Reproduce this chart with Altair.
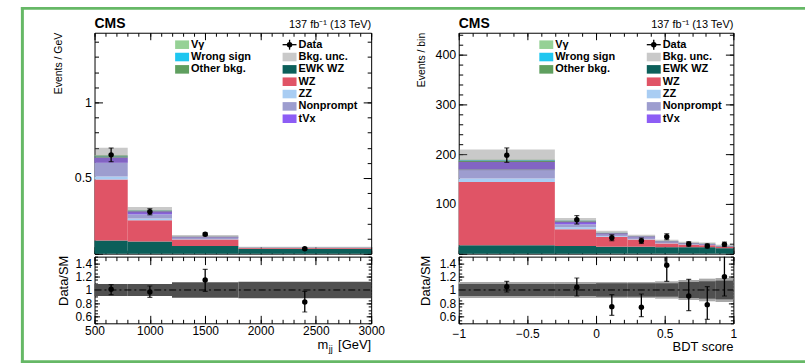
import altair as alt
import pandas as pd

FONT = "Liberation Sans"

# ---------------- left panel : m_jj ----------------
mjj_edges = [500, 800, 1200, 1800, 3000]
mjj_ewkwz = [0.087, 0.080, 0.050, 0.032]
mjj_wz = [0.403, 0.140, 0.043, 0.006]
mjj_zz = [0.020, 0.013, 0.003, 0.001]
mjj_nonprompt = [0.090, 0.027, 0.010, 0.001]
mjj_tvx = [0.035, 0.020, 0.005, 0.001]
mjj_other = [0.008, 0.004, 0.001, 0.000]
mjj_wrongsign = [0.002, 0.001, 0.000, 0.000]
mjj_vgamma = [0.005, 0.002, 0.001, 0.000]
mjj_unc = [0.050, 0.022, 0.010, 0.004]
mjj_data_x = [650, 1000, 1500, 2400]
mjj_data = [0.653, 0.277, 0.128, 0.032]
mjj_data_err = [0.045, 0.020, 0.009, 0.005]
mjj_ratio = [1.01, 0.97, 1.15, 0.82]
mjj_ratio_lo = [0.93, 0.89, 0.98, 0.67]
mjj_ratio_hi = [1.08, 1.06, 1.31, 0.98]
mjj_band = [0.09, 0.09, 0.115, 0.125]

# ---------------- right panel : BDT score ----------------
bdt_edges = [-1, -0.3, 0, 0.23, 0.43, 0.6, 0.75, 0.87, 1]
bdt_ewkwz = [17, 15.5, 14, 14, 13, 13, 13, 11]
bdt_wz = [127, 33.5, 19.5, 14.5, 7.5, 5, 4, 2.5]
bdt_zz = [7, 4, 1.5, 1, 0.5, 0.5, 0.3, 0.2]
bdt_nonprompt = [19, 6, 3.5, 3, 2, 1.5, 1.2, 0.8]
bdt_tvx = [14, 5.4, 2.5, 2, 1.5, 1, 1, 0.6]
bdt_other = [2, 1, 0.5, 0.3, 0.3, 0.3, 0.3, 0.3]
bdt_wrongsign = [1.5, 0.5, 0.3, 0.1, 0.1, 0.1, 0.1, 0.1]
bdt_vgamma = [1, 0.5, 0.2, 0.1, 0.1, 0.1, 0.1, 0.1]
bdt_unc = [21, 5.5, 4, 3, 3, 2.5, 2.5, 2.5]
bdt_data_x = [-0.65, -0.14, 0.115, 0.33, 0.515, 0.675, 0.81, 0.935]
bdt_data = [198, 68, 32, 26, 34, 19.5, 15.5, 18.7]
bdt_data_err = [14.5, 8.5, 6, 5.5, 6, 4.5, 4, 4.5]
bdt_ratio = [1.05, 1.04, 0.75, 0.74, 1.37, 0.91, 0.78, 1.20]
bdt_ratio_lo = [0.97, 0.91, 0.62, 0.60, 1.13, 0.69, 0.56, 0.91]
bdt_ratio_hi = [1.13, 1.18, 0.93, 0.94, 1.55, 1.16, 1.05, 1.55]
bdt_band_in = [0.09, 0.09, 0.10, 0.10, 0.10, 0.12, 0.13, 0.14]
bdt_band_out = [0.12, 0.12, 0.12, 0.12, 0.13, 0.15, 0.17, 0.18]

# stacking order, bottom -> top
comp_names = ["EWK WZ", "WZ", "ZZ", "Nonprompt", "tVx", "Other bkg.", "Wrong sign", "Vγ"]
comp_colors = ["#0b5f5a", "#e05466", "#a9cdf3", "#9d9dcf", "#8d5df5", "#5f9f5f", "#1ec6f0", "#95d195"]
color_of = dict(zip(comp_names, comp_colors))

GREEN = "#66b866"
UNC_COLOR, UNC_OPACITY = "#707070", 0.38
W_L, W_R, H_MAIN, H_RATIO = 278, 276, 222, 67
LABEL_EXPR = "replace(toString(datum.value), '-', '\u2212')"


def stack_df(edges, comps):
    rows = []
    for i in range(len(edges) - 1):
        cum = 0.0
        for name, vals in zip(comp_names, comps):
            rows.append(dict(x0=edges[i], x1=edges[i + 1], y0=cum, y1=cum + vals[i], comp=name))
            cum += vals[i]
    return pd.DataFrame(rows)


def axis_layers(xs, ys, xdom, ydom, xmaj, xmin, ymaj, ymin, xlab, ylab,
                xpad, ypad, xsize, ysize, xlen, xlen2, ylen, ylen2):
    df = pd.DataFrame({"x": [xdom[0]], "y": [ydom[0]]})

    def lab(orient, vals, pad, size):
        return alt.Axis(orient=orient, values=vals, ticks=False, domain=False, grid=False,
                        labels=len(vals) > 0, labelFont=FONT, labelFontSize=size,
                        labelColor="black", labelPadding=pad, labelExpr=LABEL_EXPR, title=None,
                        labelFlush=False, labelOverlap=False)

    def tk(orient, vals, length):
        return alt.Axis(orient=orient, values=vals, ticks=True, tickSize=length,
                        tickColor="black", tickWidth=1, domain=False, grid=False,
                        labels=False, offset=-length, title=None)

    pairs = [
        (lab("bottom", xlab, xpad, xsize), lab("left", ylab, ypad, ysize)),
        (tk("bottom", xmaj, xlen), tk("left", ymaj, ylen)),
        (tk("bottom", xmin, xlen2), tk("left", ymin, ylen2)),
        (tk("top", xmaj, xlen), tk("right", ymaj, ylen)),
        (tk("top", xmin, xlen2), tk("right", ymin, ylen2)),
    ]
    return [alt.Chart(df).mark_point(opacity=0).encode(
        x=alt.X("x:Q", scale=xs, axis=xa), y=alt.Y("y:Q", scale=ys, axis=ya))
        for xa, ya in pairs]


def txt(text, x, y, size, align="left", weight="normal", angle=0, baseline="alphabetic"):
    return alt.Chart(pd.DataFrame({"t": [text]})).mark_text(
        align=align, baseline=baseline, font=FONT, fontSize=size, fontWeight=weight,
        angle=angle, color="black").encode(x=alt.value(x), y=alt.value(y), text="t:N")


def legend_layers():
    y0, dy, hh = 12, 12.4, 4.3
    rows = []
    col1 = ["Vγ", "Wrong sign", "Other bkg."]
    for i, n in enumerate(col1):
        yc = y0 + i * dy
        rows.append(dict(sx=81, sx2=95, sy=yc - hh, sy2=yc + hh, c=color_of[n], tx=97, ty=yc, t=n))
    col2 = ["EWK WZ", "WZ", "ZZ", "Nonprompt", "tVx"]
    for i, n in enumerate(col2):
        yc = y0 + (i + 2) * dy
        rows.append(dict(sx=189, sx2=203, sy=yc - hh, sy2=yc + hh, c=color_of[n], tx=205, ty=yc, t=n))
    df = pd.DataFrame(rows)
    sw = alt.Chart(df).mark_rect().encode(
        x=alt.X("sx:Q", scale=None, axis=None), x2="sx2:Q",
        y=alt.Y("sy:Q", scale=None, axis=None), y2="sy2:Q",
        color=alt.Color("c:N", scale=None, legend=None))
    labels = pd.DataFrame({"tx": list(df.tx) + [205, 205],
                           "ty": list(df.ty) + [y0, y0 + dy],
                           "t": list(df.t) + ["Data", "Bkg. unc."]})
    tx = alt.Chart(labels).mark_text(align="left", baseline="middle", font=FONT, fontSize=11,
                                     fontWeight="bold", color="black").encode(
        x=alt.X("tx:Q", scale=None, axis=None), y=alt.Y("ty:Q", scale=None, axis=None), text="t:N")
    one = pd.DataFrame({"a": [0]})
    unc = alt.Chart(one).mark_rect(color=UNC_COLOR, opacity=UNC_OPACITY).encode(
        x=alt.value(189), x2=alt.value(203), y=alt.value(y0 + dy - hh), y2=alt.value(y0 + dy + hh))
    hbar = alt.Chart(one).mark_rule(color="black", strokeWidth=1.3).encode(
        x=alt.value(189), x2=alt.value(203), y=alt.value(y0))
    vbar = alt.Chart(one).mark_rule(color="black", strokeWidth=1.3).encode(
        x=alt.value(196), y=alt.value(y0 - 5), y2=alt.value(y0 + 5))
    dot = alt.Chart(one).mark_circle(color="black", size=30, opacity=1).encode(
        x=alt.value(196), y=alt.value(y0))
    return [sw, unc, hbar, vbar, dot, tx]


def data_layers(xs, ys, xv, yv, lo, hi, clip=False):
    df = pd.DataFrame({"x": xv, "y": yv, "lo": lo, "hi": hi})
    caps = pd.DataFrame({"x": xv + xv, "y": list(lo) + list(hi)})
    bars = alt.Chart(df).mark_rule(color="black", strokeWidth=1.3, clip=clip).encode(
        x=alt.X("x:Q", scale=xs, axis=None), y=alt.Y("lo:Q", scale=ys, axis=None), y2="hi:Q")
    cap = alt.Chart(caps).mark_tick(orient="horizontal", size=5, thickness=1.2, color="black",
                                    clip=clip).encode(
        x=alt.X("x:Q", scale=xs, axis=None), y=alt.Y("y:Q", scale=ys, axis=None))
    pts = alt.Chart(df).mark_circle(color="black", size=30, opacity=1, clip=clip).encode(
        x=alt.X("x:Q", scale=xs, axis=None), y=alt.Y("y:Q", scale=ys, axis=None))
    return [bars, cap, pts]


def main_view(edges, comps, unc, dx, dv, de, ydom, ymaj, ymin, ylab, W, xmaj, xmin,
              ytitle, ytitle_x, frame=False):
    xdom = [edges[0], edges[-1]]
    xs = alt.Scale(domain=xdom, nice=False, zero=False)
    ys = alt.Scale(domain=ydom, nice=False, zero=False)
    sdf = stack_df(edges, comps)
    stack = alt.Chart(sdf).mark_rect().encode(
        x=alt.X("x0:Q", scale=xs, axis=None), x2="x1:Q",
        y=alt.Y("y0:Q", scale=ys, axis=None), y2="y1:Q",
        color=alt.Color("comp:N", scale=alt.Scale(domain=comp_names, range=comp_colors), legend=None))
    tot = [sum(c[i] for c in comps) for i in range(len(edges) - 1)]
    udf = pd.DataFrame({"x0": edges[:-1], "x1": edges[1:],
                        "lo": [t - u for t, u in zip(tot, unc)],
                        "hi": [t + u for t, u in zip(tot, unc)]})
    ubox = alt.Chart(udf).mark_rect(color=UNC_COLOR, opacity=UNC_OPACITY).encode(
        x=alt.X("x0:Q", scale=xs, axis=None), x2="x1:Q",
        y=alt.Y("lo:Q", scale=ys, axis=None), y2="hi:Q")
    layers = []
    if frame:
        one = pd.DataFrame({"a": [0]})
        fr = dict(color=GREEN, strokeWidth=3, strokeCap="square")
        layers += [
            alt.Chart(one).mark_rule(**fr).encode(x=alt.value(-72.5), y=alt.value(-24.5), y2=alt.value(330.5)),
            alt.Chart(one).mark_rule(**fr).encode(x=alt.value(-72.5), x2=alt.value(712.5), y=alt.value(-24.5)),
            alt.Chart(one).mark_rule(**fr).encode(x=alt.value(-72.5), x2=alt.value(712.5), y=alt.value(330.5)),
        ]
    layers += [stack, ubox]
    layers += data_layers(xs, ys, dx, dv, [v - e for v, e in zip(dv, de)], [v + e for v, e in zip(dv, de)])
    layers += axis_layers(xs, ys, xdom, ydom, xmaj, xmin, ymaj, ymin, [], ylab,
                          2, 3, 12, 12.5, 7, 3.5, 8, 4)
    layers += legend_layers()
    layers += [txt("CMS", 0, -5, 14, weight="bold"),
               txt("137 fb\u207b\u00b9 (13 TeV)", W, -5, 11, align="right"),
               txt(ytitle, ytitle_x, 0, 10.5, align="right", angle=270, baseline="middle")]
    return alt.layer(*layers).resolve_axis(x="independent", y="independent").properties(
        width=W, height=H_MAIN)


def ratio_view(edges, dx, rv, rlo, rhi, band_in, band_out, W, xmaj, xmin, xlab, xpad,
               ytitle_x, title_layers):
    xdom = [edges[0], edges[-1]]
    ydom = [0.5, 1.5]
    xs = alt.Scale(domain=xdom, nice=False, zero=False)
    ys = alt.Scale(domain=ydom, nice=False, zero=False)
    layers = []
    if band_out is not None:
        bo = pd.DataFrame({"x0": edges[:-1], "x1": edges[1:],
                           "lo": [1 - b for b in band_out], "hi": [1 + b for b in band_out]})
        layers.append(alt.Chart(bo).mark_rect(color="#a8a8a8").encode(
            x=alt.X("x0:Q", scale=xs, axis=None), x2="x1:Q",
            y=alt.Y("lo:Q", scale=ys, axis=None), y2="hi:Q"))
    bi = pd.DataFrame({"x0": edges[:-1], "x1": edges[1:],
                       "lo": [1 - b for b in band_in], "hi": [1 + b for b in band_in]})
    layers.append(alt.Chart(bi).mark_rect(color="#505050").encode(
        x=alt.X("x0:Q", scale=xs, axis=None), x2="x1:Q",
        y=alt.Y("lo:Q", scale=ys, axis=None), y2="hi:Q"))
    line = pd.DataFrame({"x0": [xdom[0]], "x1": [xdom[1]], "y": [1.0]})
    layers.append(alt.Chart(line).mark_rule(color="black", strokeWidth=1, strokeDash=[7, 3, 2, 3]).encode(
        x=alt.X("x0:Q", scale=xs, axis=None), x2="x1:Q", y=alt.Y("y:Q", scale=ys, axis=None)))
    layers += data_layers(xs, ys, dx, rv, rlo, rhi, clip=True)
    ymaj = [0.6, 0.8, 1.0, 1.2, 1.4]
    ymin = [round(0.5 + 0.05 * i, 2) for i in range(21)]
    layers += axis_layers(xs, ys, xdom, ydom, xmaj, xmin, ymaj, ymin, xlab, ymaj,
                          xpad, 3, 12, 12, 8, 4, 5, 3)
    layers.append(txt("Data/SM", ytitle_x, -1, 13, align="right", angle=270, baseline="middle"))
    layers += title_layers
    return alt.layer(*layers).resolve_axis(x="independent", y="independent").properties(
        width=W, height=H_RATIO)


mjj_comps = [mjj_ewkwz, mjj_wz, mjj_zz, mjj_nonprompt, mjj_tvx, mjj_other, mjj_wrongsign, mjj_vgamma]
bdt_comps = [bdt_ewkwz, bdt_wz, bdt_zz, bdt_nonprompt, bdt_tvx, bdt_other, bdt_wrongsign, bdt_vgamma]

mjj_xmaj = [500, 1000, 1500, 2000, 2500, 3000]
mjj_xmin = [500 + 100 * i for i in range(26)]
bdt_xmaj = [-1, -0.5, 0, 0.5, 1]
bdt_xmin = [round(-1 + 0.1 * i, 2) for i in range(21)]

left_main = main_view(mjj_edges, mjj_comps, mjj_unc, mjj_data_x, mjj_data, mjj_data_err,
                      [0, 1.46], [0, 0.5, 1.0], [round(0.1 * i, 2) for i in range(15)], [0.5, 1.0],
                      W_L, mjj_xmaj, mjj_xmin, "Events / GeV", -35.5, frame=True)
right_main = main_view(bdt_edges, bdt_comps, bdt_unc, bdt_data_x, bdt_data, bdt_data_err,
                       [0, 444], [0, 100, 200, 300, 400], [20 * i for i in range(23)],
                       [100, 200, 300, 400], W_R, bdt_xmaj, bdt_xmin, "Events / bin", -37)

mjj_title = [txt("m", 235, 93, 13, align="right"),
             txt("jj", 235.5, 96, 9),
             txt("[GeV]", W_L, 93, 13, align="right")]
bdt_title = [txt("BDT score", W_R, 95, 13, align="right")]

left_ratio = ratio_view(mjj_edges, mjj_data_x, mjj_ratio, mjj_ratio_lo, mjj_ratio_hi, mjj_band, None,
                        W_L, mjj_xmaj, mjj_xmin, mjj_xmaj, 2, -30.5, mjj_title)
right_ratio = ratio_view(bdt_edges, bdt_data_x, bdt_ratio, bdt_ratio_lo, bdt_ratio_hi, bdt_band_in,
                         bdt_band_out, W_R, bdt_xmaj, bdt_xmin, bdt_xmaj, 5, -33, bdt_title)

chart = alt.concat(left_main, right_main, left_ratio, right_ratio, columns=2,
                   spacing={"row": 3, "column": 88}, bounds="flush").properties(
    padding={"left": 19, "top": 4, "right": 0, "bottom": 2}, background="white"
).configure_view(stroke="black", strokeWidth=1)

chart.save("out.html", embed_options={"renderer": "svg", "actions": False})
